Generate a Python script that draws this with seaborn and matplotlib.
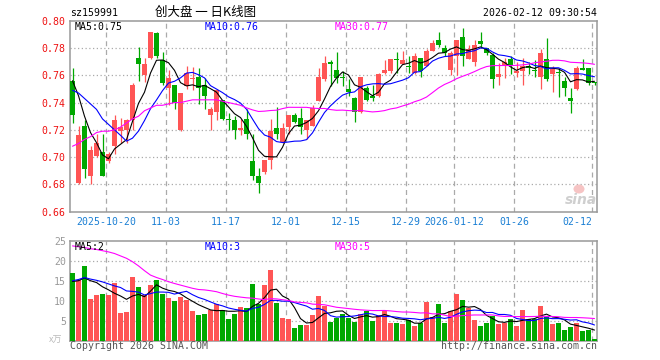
import numpy as np
import pandas as pd
import matplotlib
matplotlib.use("Agg")
import matplotlib.pyplot as plt
import seaborn as sns
from matplotlib.patches import Ellipse
from matplotlib.transforms import blended_transform_factory

# ---------------- data ----------------
open_ = [0.756, 0.681, 0.723, 0.686, 0.701, 0.704, 0.697, 0.708, 0.719, 0.720,
         0.727, 0.773, 0.760, 0.773, 0.791, 0.771, 0.751, 0.753, 0.720, 0.752,
         0.757, 0.759, 0.753, 0.731, 0.733, 0.742, 0.728, 0.727, 0.720, 0.728,
         0.697, 0.686, 0.689, 0.698, 0.721, 0.711, 0.722, 0.731, 0.729, 0.720,
         0.723, 0.741, 0.757, 0.770, 0.764, 0.759, 0.750, 0.743, 0.733, 0.751,
         0.745, 0.745, 0.762, 0.763, 0.772, 0.768, 0.767, 0.762, 0.773, 0.767,
         0.778, 0.786, 0.780, 0.764, 0.774, 0.788, 0.772, 0.770, 0.785, 0.780,
         0.775, 0.759, 0.767, 0.772, 0.762, 0.763, 0.767, 0.764, 0.759, 0.772,
         0.761, 0.762, 0.756, 0.743, 0.750, 0.765, 0.765, 0.755]
high = [0.765, 0.723, 0.727, 0.708, 0.717, 0.717, 0.704, 0.731, 0.729, 0.728,
        0.754, 0.781, 0.773, 0.792, 0.792, 0.777, 0.764, 0.753, 0.747, 0.767,
        0.766, 0.765, 0.758, 0.737, 0.749, 0.742, 0.732, 0.730, 0.728, 0.735,
        0.717, 0.692, 0.698, 0.728, 0.737, 0.725, 0.731, 0.732, 0.736, 0.727,
        0.738, 0.765, 0.774, 0.771, 0.777, 0.763, 0.757, 0.744, 0.759, 0.752,
        0.753, 0.762, 0.771, 0.772, 0.777, 0.778, 0.774, 0.776, 0.773, 0.779,
        0.786, 0.792, 0.782, 0.778, 0.786, 0.795, 0.782, 0.786, 0.792, 0.780,
        0.776, 0.769, 0.773, 0.774, 0.770, 0.773, 0.770, 0.771, 0.779, 0.787,
        0.767, 0.765, 0.759, 0.751, 0.767, 0.772, 0.765, 0.755]
low = [0.725, 0.680, 0.685, 0.680, 0.700, 0.686, 0.696, 0.702, 0.710, 0.710,
       0.720, 0.756, 0.755, 0.772, 0.773, 0.753, 0.738, 0.735, 0.719, 0.750,
       0.749, 0.739, 0.735, 0.720, 0.727, 0.727, 0.720, 0.713, 0.716, 0.713,
       0.683, 0.674, 0.688, 0.691, 0.713, 0.710, 0.717, 0.725, 0.717, 0.713,
       0.723, 0.741, 0.756, 0.752, 0.754, 0.752, 0.745, 0.726, 0.732, 0.741,
       0.741, 0.744, 0.761, 0.762, 0.762, 0.768, 0.762, 0.761, 0.759, 0.767,
       0.778, 0.781, 0.774, 0.760, 0.760, 0.767, 0.772, 0.767, 0.780, 0.775,
       0.751, 0.753, 0.758, 0.761, 0.759, 0.753, 0.761, 0.759, 0.750, 0.756,
       0.748, 0.744, 0.745, 0.732, 0.749, 0.764, 0.753, 0.753]
close = [0.731, 0.716, 0.691, 0.705, 0.710, 0.686, 0.702, 0.727, 0.722, 0.727,
         0.753, 0.768, 0.768, 0.792, 0.774, 0.754, 0.758, 0.740, 0.747, 0.762,
         0.758, 0.751, 0.745, 0.735, 0.749, 0.728, 0.727, 0.720, 0.721, 0.717,
         0.686, 0.681, 0.698, 0.719, 0.717, 0.721, 0.731, 0.726, 0.722, 0.727,
         0.736, 0.759, 0.769, 0.768, 0.758, 0.758, 0.748, 0.733, 0.759, 0.742,
         0.743, 0.761, 0.764, 0.772, 0.771, 0.771, 0.766, 0.774, 0.763, 0.778,
         0.784, 0.782, 0.776, 0.776, 0.786, 0.774, 0.779, 0.782, 0.783, 0.776,
         0.757, 0.761, 0.770, 0.767, 0.763, 0.767, 0.765, 0.763, 0.776, 0.757,
         0.765, 0.762, 0.751, 0.741, 0.765, 0.764, 0.754, 0.754]
volume = [17.0, 15.2, 18.7, 10.4, 11.4, 11.7, 11.4, 14.4, 7.0, 7.2,
          15.9, 13.4, 11.5, 13.9, 15.2, 11.7, 10.7, 10.0, 10.9, 10.3,
          7.4, 6.4, 6.7, 7.7, 9.3, 7.7, 5.4, 6.7, 8.4, 8.2,
          14.2, 9.2, 13.9, 17.7, 9.4, 5.7, 5.4, 3.2, 3.9, 3.9,
          6.4, 11.2, 8.7, 4.7, 5.8, 6.8, 5.75, 4.7, 6.7, 7.4,
          4.9, 6.4, 7.4, 4.4, 4.4, 4.2, 5.2, 3.7, 4.4, 9.75,
          6.0, 9.2, 4.4, 7.4, 11.7, 10.2, 8.2, 5.2, 3.7, 4.4,
          6.2, 4.2, 4.4, 5.4, 3.7, 7.7, 5.4, 5.4, 8.7, 6.0,
          4.2, 4.4, 2.7, 3.4, 4.4, 2.4, 2.7, 0.4]

# moving-average values visible before the window is filled by shown candles
ma5_head = [0.756, 0.745, 0.730, 0.718]
ma10_head = [0.749, 0.747, 0.743, 0.739, 0.735, 0.728, 0.724, 0.720, 0.716]
ma30_head = [0.708, 0.710, 0.713, 0.715, 0.718, 0.719, 0.719, 0.720, 0.722, 0.725,
             0.728, 0.730, 0.734, 0.736, 0.738, 0.738, 0.739, 0.740, 0.740, 0.741,
             0.742, 0.742, 0.742, 0.742, 0.742, 0.741, 0.740, 0.739, 0.738]
vma5_head = [14.8, 15.0, 15.7, 15.0]
vma10_head = [15.0, 15.3, 15.8, 15.4, 15.1, 14.7, 14.2, 13.7, 13.3]
vma30_head = [23.7, 23.5, 23.3, 23.0, 22.8, 22.5, 22.2, 21.8, 21.2, 20.6,
              19.75, 18.7, 17.5, 16.4, 15.8, 15.3, 14.75, 14.3, 13.9, 13.5,
              13.1, 12.8, 12.7, 12.5, 12.25, 11.8, 11.4, 11.1, 10.9]

tick_idx = [6, 16, 26, 36, 46, 56, 64, 74, 87]
tick_labels = ["2025-10-20", "11-03", "11-17", "12-01", "12-15", "12-29",
               "2026-01-12", "01-26", "02-12"]
price_ticks = [0.66, 0.68, 0.70, 0.72, 0.74, 0.76, 0.78, 0.80]
vol_ticks = [5, 10, 15, 20, 25]

title_code = "sz159991"
title_name = "创大盘 一 日K线图"
title_time = "2026-02-12 09:30:54"
ma_price_labels = ["MA5:0.75", "MA10:0.76", "MA30:0.77"]
ma_vol_labels = ["MA5:2", "MA10:3", "MA30:5"]

# ---------------- styling ----------------
sns.set_style("white")
MONO = "DejaVu Sans Mono"
CJK = ["Noto Sans CJK SC", "DejaVu Sans"]
plt.rcParams["font.family"] = [MONO, "Noto Sans CJK SC"]

RED = "#ff5555"
GREEN = "#00a800"
BLUE = "#0000ff"
MAG = "#ff00ff"
FRAME = "#999999"
GRID = "#aaaaaa"
TXT = 7.1

W, H = 660, 360
fig = plt.figure(figsize=(W / 100, H / 100), dpi=100, facecolor="white")


def box(l, t, r, b):
    return [l / W, 1 - b / H, (r - l) / W, (b - t) / H]


ax = fig.add_axes(box(70, 20.7, 597, 211.7))
axv = fig.add_axes(box(70, 240.7, 597, 340.7))

o = np.array(open_)
c = np.array(close)
hi = np.array(high)
lo = np.array(low)
v = np.array(volume)
n = len(c)
x = np.arange(n)
up = c > o
cols = np.where(up, RED, GREEN)


def moving(series, w, head):
    s = pd.Series(series, dtype=float).rolling(w).mean()
    s.iloc[: w - 1] = head
    return s.values


x0 = -2.5 / 6
x1 = x0 + 527 / 6
grid_x = [i - 2.5 / 6 for i in tick_idx]

# ---- price panel ----
ax.vlines(x, lo, hi, colors=cols, lw=0.9, zorder=3)
ax.bar(x, np.maximum(np.abs(c - o), 0.0007), bottom=np.minimum(o, c),
       width=0.83, color=cols, lw=0, zorder=4)
for w, head, col in [(5, ma5_head, "black"), (10, ma10_head, BLUE), (30, ma30_head, MAG)]:
    sns.lineplot(x=x, y=moving(c, w, head), color=col, lw=0.8, ax=ax, zorder=5)

ax.set_xlim(x0, x1)
ax.set_ylim(0.66, 0.80)
ax.set_yticks(price_ticks)
ax.set_yticklabels([f"{t:.2f}" for t in price_ticks])
ax.tick_params(axis="y", length=0, pad=3.0, labelsize=TXT, labelcolor="#ee1111")
ax.set_xticks(grid_x)
ax.set_xticklabels([])
ax.tick_params(axis="x", length=0)
ax.set_xlabel("")
ax.set_ylabel("")
for yv in price_ticks[1:-1]:
    ax.axhline(yv, color=GRID, lw=0.9, ls=(0, (1, 2)), zorder=1)
for gx in grid_x:
    ax.axvline(gx, color=GRID, lw=0.9, ls=(0, (4, 3)), zorder=1)

tr = blended_transform_factory(ax.transData, ax.transAxes)
for k, (ti, lab) in enumerate(zip(grid_x, tick_labels)):
    ha = "right" if k == len(tick_labels) - 1 else "center"
    ax.text(ti, -0.052, lab, transform=tr, ha=ha, va="center", fontsize=TXT,
            color="#1a7fd4", family=MONO)

# ---- volume panel ----
dfv = pd.DataFrame({"i": x, "vol": v, "dir": np.where(up, "up", "down")})
sns.barplot(data=dfv, x="i", y="vol", hue="dir", palette={"up": RED, "down": GREEN},
            native_scale=True, dodge=False, width=0.83, saturation=1, errorbar=None,
            legend=False, linewidth=0, ax=axv, zorder=3)
for w, head, col in [(5, vma5_head, "black"), (10, vma10_head, BLUE), (30, vma30_head, MAG)]:
    sns.lineplot(x=x, y=moving(v, w, head), color=col, lw=0.8, ax=axv, zorder=5)
axv.set_xlim(x0, x1)
axv.set_ylim(0, 25)
axv.set_yticks(vol_ticks)
axv.set_yticklabels([str(t) for t in vol_ticks])
axv.tick_params(axis="y", length=0, pad=3.0, labelsize=TXT, labelcolor="#999999")
axv.set_xticks(grid_x)
axv.set_xticklabels([])
axv.tick_params(axis="x", length=0)
axv.set_xlabel("")
axv.set_ylabel("")
for yv in vol_ticks[:-1]:
    axv.axhline(yv, color=GRID, lw=0.9, ls=(0, (1, 2)), zorder=1)
for gx in grid_x:
    axv.axvline(gx, color=GRID, lw=0.9, ls=(0, (4, 3)), zorder=1)

for a in (ax, axv):
    for s in a.spines.values():
        s.set_color(FRAME)
        s.set_linewidth(1.1)
        s.set_visible(True)

# ---- texts ----
def ftext(px, py, s, **kw):
    fig.text(px / W, 1 - py / H, s, **kw)


ftext(70, 12.8, title_code, ha="left", va="center", fontsize=TXT, color="black", family=MONO)
ftext(206, 12.5, title_name, ha="center", va="center", fontsize=9, color="black", family=CJK)
ftext(597, 12.8, title_time, ha="right", va="center", fontsize=TXT, color="black", family=MONO)

for px, lab, col in zip([75, 205, 335], ma_price_labels, ["black", BLUE, MAG]):
    ftext(px, 26.5, lab, ha="left", va="center", fontsize=TXT, color=col, family=MONO)
for px, lab, col in zip([75, 205, 335], ma_vol_labels, ["black", BLUE, MAG]):
    ftext(px, 246.5, lab, ha="left", va="center", fontsize=TXT, color=col, family=MONO)

ftext(56, 340, "x万", ha="center", va="center", fontsize=6.5, color="#bbbbbb", family=CJK)
ftext(70, 346, "Copyright 2026 SINA.COM", ha="left", va="center", fontsize=TXT,
      color="#555555", family=MONO)
ftext(597, 346, "http://finance.sina.com.cn", ha="right", va="center", fontsize=TXT,
      color="#555555", family=MONO)

# sina watermark (logo dot as a shape, word as text)
fig.add_artist(Ellipse((579 / W, 1 - 189 / H), 11 / W, 9 / H,
                       transform=fig.transFigure, facecolor="#f6c4c4", edgecolor="none"))
ftext(581, 200, "sina", ha="center", va="center", fontsize=10, color="#cfcfcf",
      style="italic", weight="bold", family="DejaVu Sans")

fig.savefig("out.png", dpi=100, facecolor="white")
